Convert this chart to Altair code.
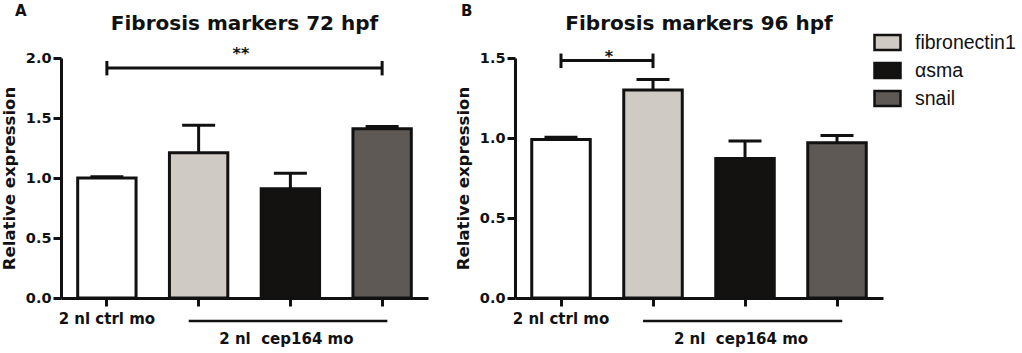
import altair as alt
import pandas as pd

# ---- data ----
categories = ["ctrl", "fibronectin1", "αsma", "snail"]
legend_labels = ["fibronectin1", "αsma", "snail"]
bar_colors = ["#ffffff", "#d0cac5", "#141210", "#5e5955"]

means_72 = [1.00, 1.21, 0.91, 1.41]
sems_72 = [0.01, 0.23, 0.13, 0.02]
means_96 = [0.99, 1.30, 0.872, 0.97]
sems_96 = [0.015, 0.065, 0.11, 0.045]

sig_72 = {"a": "ctrl", "b": "snail", "y": 1.917, "lo": 1.855, "hi": 1.975, "star": "**"}
sig_96 = {"a": "ctrl", "b": "fibronectin1", "y": 1.484, "lo": 1.437, "hi": 1.528, "star": "*"}

ctrl_label = "2 nl ctrl mo"
group_label = "2 nl\u00a0 cep164 mo"
y_title = "Relative expression"

BOLD = "DejaVu Sans"
H = 240


def panel(means, sems, sig, ymax, yticks, title, letter, width, star_dx, star_dy, legend):
    df = pd.DataFrame({"cat": categories, "mean": means, "sem": sems})
    base = alt.Chart(df).transform_calculate(upper="datum.mean + datum.sem")

    xscale = alt.Scale(domain=categories, paddingInner=0.364, paddingOuter=0.182)
    x = alt.X(
        "cat:N", sort=categories, scale=xscale,
        axis=alt.Axis(
            title=None, labelAngle=0,
            labelExpr="datum.value == 'ctrl' ? '%s' : ''" % ctrl_label,
            labelFont=BOLD, labelFontWeight="bold", labelFontSize=15, labelColor="#111",
            labelOverlap=False, labelFlush=False, labelBound=False, labelLimit=0,
            labelPadding=5, tickSize=8, tickWidth=3, tickColor="#111",
            domainWidth=3, domainColor="#111", grid=False,
        ),
    )
    yscale = alt.Scale(domain=[0, ymax], nice=False, zero=True)
    y = alt.Y(
        "mean:Q", scale=yscale,
        axis=alt.Axis(
            title=y_title, values=yticks, format=".1f", grid=False,
            labelFont=BOLD, labelFontWeight="bold", labelFontSize=14.5, labelColor="#111",
            labelPadding=2, tickSize=8, tickWidth=3, tickColor="#111",
            domainWidth=3, domainColor="#111",
            titleFont=BOLD, titleFontWeight="bold", titleFontSize=16.5, titleColor="#111",
            titlePadding=8,
        ),
    )

    err = base.mark_rule(strokeWidth=3, color="#111").encode(x=x, y=y, y2="upper:Q")
    cap = base.mark_tick(size=33, thickness=3, color="#111", opacity=1).encode(
        x=x, y=alt.Y("upper:Q", scale=yscale)
    )
    fill = alt.Fill(
        "cat:N",
        scale=alt.Scale(domain=categories, range=bar_colors),
        legend=legend,
    )
    bars = base.mark_bar(stroke="#111", strokeWidth=3, opacity=1).encode(x=x, y=y, fill=fill)

    sdf = pd.DataFrame([sig])
    sig_line = alt.Chart(sdf).mark_rule(strokeWidth=3, color="#111").encode(
        x=alt.X("a:N", scale=xscale, sort=categories),
        x2="b:N",
        y=alt.Y("y:Q", scale=yscale),
    )
    ends = pd.DataFrame({"cat": [sig["a"], sig["b"]], "lo": [sig["lo"]] * 2, "hi": [sig["hi"]] * 2})
    sig_ends = alt.Chart(ends).mark_rule(strokeWidth=3, color="#111").encode(
        x=alt.X("cat:N", scale=xscale, sort=categories),
        y=alt.Y("lo:Q", scale=yscale),
        y2="hi:Q",
    )
    star = alt.Chart(sdf).mark_text(
        font=BOLD, fontWeight="bold", fontSize=16, color="#111",
        align="center", baseline="alphabetic", dx=star_dx, dy=star_dy,
    ).encode(
        x=alt.X("a:N", scale=xscale, sort=categories),
        y=alt.Y("y:Q", scale=yscale),
        text="star:N",
    )

    gdf = pd.DataFrame({"a": ["fibronectin1"], "b": ["snail"], "mid": ["αsma"], "label": [group_label]})
    gline = alt.Chart(gdf).mark_rule(strokeWidth=2.5, color="#111").encode(
        x=alt.X("a:N", scale=xscale, sort=categories, bandPosition=0.33),
        x2=alt.X2("b:N", bandPosition=0.59),
        y=alt.value(H + 23),
    )
    gtext = alt.Chart(gdf).mark_text(
        font=BOLD, fontWeight="bold", fontSize=15, color="#111",
        align="center", baseline="alphabetic", dx=-4,
    ).encode(
        x=alt.X("mid:N", scale=xscale, sort=categories),
        y=alt.value(H + 46),
        text="label:N",
    )

    ldf = pd.DataFrame({"t": [letter]})
    ltext = alt.Chart(ldf).mark_text(
        font=BOLD, fontWeight="bold", fontSize=15, color="#111",
        align="left", baseline="alphabetic",
    ).encode(x=alt.value(-46 if letter == "A" else -54), y=alt.value(-42), text="t:N")

    return alt.layer(err, cap, bars, sig_line, sig_ends, star, gline, gtext, ltext).properties(
        width=width, height=H,
        view=alt.ViewBackground(strokeWidth=0, stroke="transparent"),
        title=alt.TitleParams(
            title, font=BOLD, fontWeight="bold", fontSize=20, color="#111",
            anchor="middle", frame="group", baseline="alphabetic", offset=-46,
        ),
    )


legend_b = alt.Legend(
    title=None, values=legend_labels, orient="none", legendX=358, legendY=-30,
    symbolType="M-1,-0.577H1V0.577H-1Z", symbolSize=676,
    symbolStrokeColor="#111", symbolStrokeWidth=2.5, symbolOpacity=1,
    labelFont="Liberation Sans", labelFontSize=19.5, labelColor="#111",
    labelOffset=13, rowPadding=-0.5, padding=0,
)

a = panel(means_72, sems_72, sig_72, 2.0, [0, 0.5, 1.0, 1.5, 2.0],
          "Fibrosis markers 72 hpf", "A", 367, 134, -9, None)
b = panel(means_96, sems_96, sig_96, 1.5, [0, 0.5, 1.0, 1.5],
          "Fibrosis markers 96 hpf", "B", 368, 48, 1, legend_b)

chart = (
    alt.hconcat(a, b, spacing=87, bounds="flush")
    .resolve_scale(fill="independent")
    .resolve_legend(fill="independent")
    .properties(padding={"left": 1, "top": 4, "right": 0, "bottom": 0})
    .configure_view(strokeWidth=0, stroke="transparent")
    .configure(background="white")
)

chart.save("out.html", embed_options={"renderer": "svg", "actions": False})
